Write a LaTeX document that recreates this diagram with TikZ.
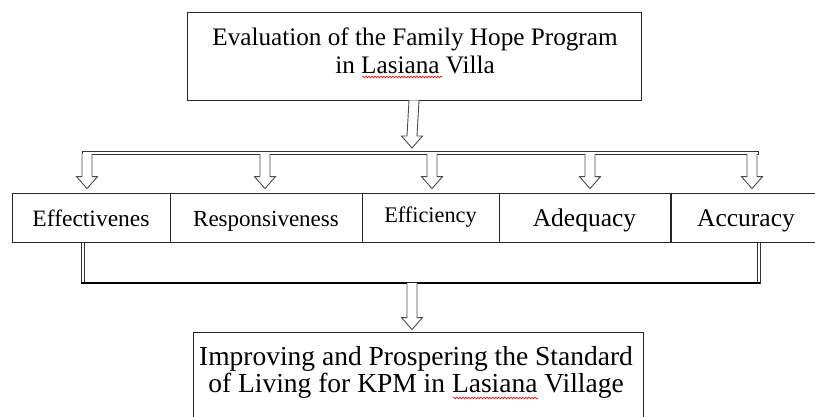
\documentclass[tikz,border=0pt]{standalone}
\usepackage{fontspec}
\setmainfont{Liberation Serif}
\usetikzlibrary{calc,decorations.pathmorphing}
\def\hollowarrow(#1)(#2){\coordinate (ha-top) at (#1); \coordinate (ha-tip) at (#2);
	\draw[line width=0.9pt, color=black!70, fill=white, line join=miter] ($(ha-top)+(-5,0)$) -- ($(ha-tip)+(-5,-12)$) -- ($(ha-tip)+(-10.5,-12)$) -- (ha-tip) -- ($(ha-tip)+(10.5,-12)$) -- ($(ha-tip)+(5,-12)$) -- ($(ha-top)+(5,0)$);}
\tikzset{
	outerbox/.style={draw, line width=0.9pt, color=black!85, inner sep=0pt},
	critbox/.style={draw, line width=0.8pt, color=black!85, text=black, minimum height=49pt, inner sep=0pt, text height=22pt, text depth=3pt},
	bigtext/.style={align=center, inner sep=0pt, anchor=north, text=black},
	spellwave/.style={red, line width=0.6pt, decorate, decoration={snake, segment length=3pt, amplitude=0.9pt}}
}

\begin{document}
\begin{tikzpicture}[x=1pt, y=-1pt]
		%%%%% START %%%%%
		\useasboundingbox (0,0) rectangle (815,417);
		
		\node[outerbox, minimum width=454pt, minimum height=88pt] (evalbox) at (414,56) {};
		\node[bigtext, font=\fontsize{25.2}{28}\selectfont] (evaltext) at (415,28) {Evaluation of the Family Hope Program\\in Lasiana Villa};
		\draw[spellwave] (362,77) -- (442,77);
		
		\node[critbox, minimum width=158pt, font=\fontsize{23.5}{25}\selectfont] (effect) at (91,217.5) {Effectivenes};
		\node[critbox, minimum width=192pt, font=\fontsize{23}{25}\selectfont] (respon) at (266,217.5) {Responsiveness};
		\node[critbox, minimum width=137pt, font=\fontsize{22.3}{24}\selectfont, text height=16pt, text depth=5pt] (effic) at (430.5,217.5) {Efficiency};
		\node[critbox, minimum width=171pt, font=\fontsize{25.5}{27}\selectfont] (adequ) at (584.5,217.5) {Adequacy};
		\node[critbox, minimum width=150pt, font=\fontsize{25.5}{27}\selectfont] (accur) at (746,217.5) {Accuracy};
		
		\node[outerbox, minimum width=450pt, minimum height=100pt] (goalbox) at (418,382) {};
		\node[bigtext, font=\fontsize{27.5}{27}\selectfont] (goaltext) at (416,346) {Improving and Prospering the Standard\\of Living for KPM in Lasiana Village};
		\draw[spellwave] (453,398) -- (538,398);
		
		% split bar and arrows
		\coordinate (splitL) at (82,151);
		\coordinate (splitR) at (758,154);
		\draw[line width=0.8pt, color=black!80] (splitL) rectangle (splitR);
		\coordinate (t0) at ($(evalbox.south |- splitL)+(-2,-3)$);
		\hollowarrow(evalbox.south)(t0)
		
		\coordinate (t1) at ($(effect.north)+(-4,-4)$);
		\coordinate (t2) at ($(respon.north)+(-1,-4)$);
		\coordinate (t3) at ($(effic.north)+(1.5,-4)$);
		\coordinate (t4) at ($(adequ.north)+(5.5,-4)$);
		\coordinate (t5) at ($(accur.north)+(6,-4)$);
		\foreach \t in {t1,t2,t3,t4,t5}
			{\hollowarrow(\t |- splitR)(\t)}
		
		% join lines
		\coordinate (joinL) at (82.5,283);
		\coordinate (joinR) at (758.5,283);
		\draw[line width=0.8pt, color=black!80] ($(effect.south -| joinL)+(-1.5,0)$) rectangle ($(joinL)+(1.5,0)$);
		\draw[line width=0.8pt, color=black!80] ($(accur.south -| joinR)+(-1.5,0)$) rectangle ($(joinR)+(1.5,0)$);
		\draw[line width=2.2pt] ($(joinL)+(-1.5,0)$) -- ($(joinR)+(1.5,0)$);
		
		\coordinate (g1) at ($(goalbox.north)+(-6,-2)$);
		\hollowarrow(g1 |- joinL)(g1)
		
		%%%%% END %%%%%
\end{tikzpicture}
\end{document}
